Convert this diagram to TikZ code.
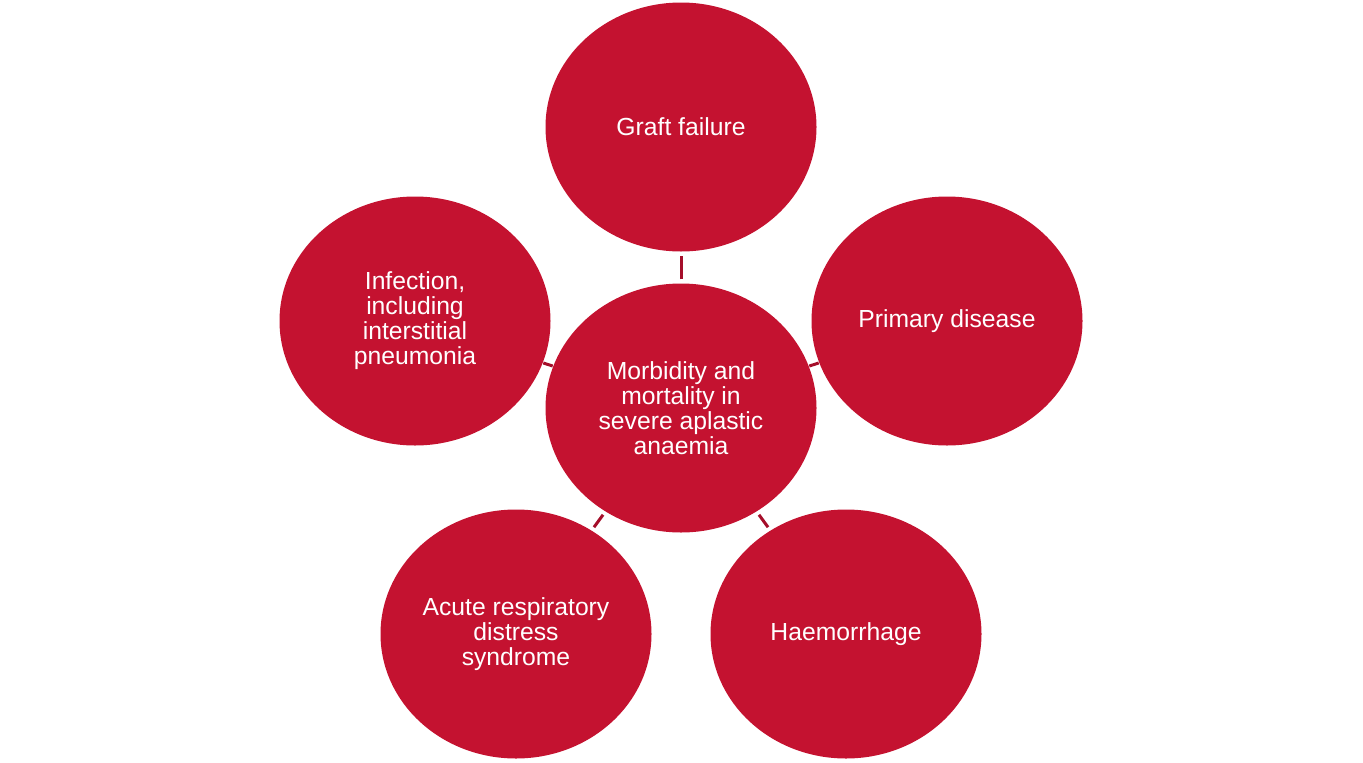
\documentclass[tikz,border=0pt]{standalone}
\usepackage{fontspec}
\setmainfont{Liberation Sans}
\usetikzlibrary{shapes.geometric}
\definecolor{bubble}{HTML}{C41230}
\definecolor{link}{HTML}{A50E2A}
\tikzset{
  bub/.style={ellipse, fill=bubble, draw=none, inner sep=0pt, minimum width=271pt, minimum height=249pt,
    text=white, align=center, font=\fontsize{24.7}{25}\selectfont},
  lnk/.style={draw=link, line width=3pt, shorten <=4pt, shorten >=4pt},
  lnkshort/.style={draw=link, line width=3pt, shorten <=0.5pt, shorten >=0.5pt}
}
\begin{document}
\begin{tikzpicture}[x=1pt,y=-1pt]
\useasboundingbox (0,0) rectangle (1363,763);
\node[bub] (c) at (681,408) {Morbidity and\\mortality in\\severe aplastic\\anaemia};
\node[bub] (t) at (681,127) {Graft failure};
\node[bub] (l) at (415,321) {Infection,\\including\\interstitial\\pneumonia};
\node[bub] (r) at (947,321) {Primary disease};
\node[bub] (bl) at (516,634) {Acute respiratory\\distress\\syndrome};
\node[bub] (br) at (846,634) {Haemorrhage};
\draw[lnk] (c) -- (t);
\draw[lnkshort] (c) -- (l);
\draw[lnkshort] (c) -- (r);
\draw[lnk] (c) -- (bl);
\draw[lnk] (c) -- (br);
\end{tikzpicture}
\end{document}
